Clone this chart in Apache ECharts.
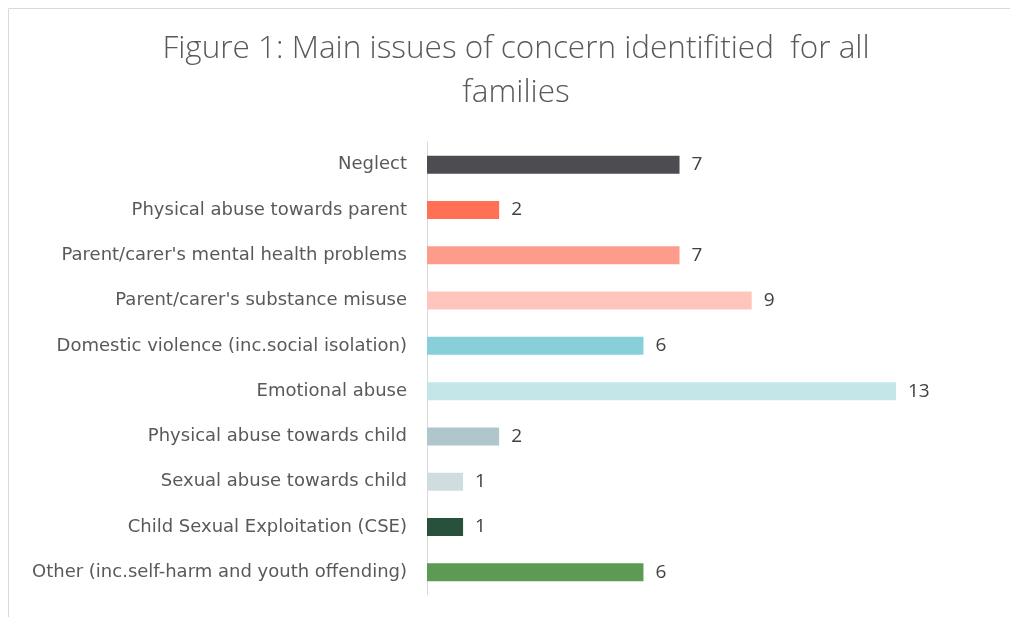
<!DOCTYPE html>
<html>
<head>
<meta charset="utf-8">
<script src="https://cdn.jsdelivr.net/npm/echarts@6/dist/echarts.min.js"></script>
<style>
html,body{margin:0;padding:0;background:#fff;}
#chart{width:1010px;height:617px;}
</style>
</head>
<body>
<div id="chart"></div>
<script>
const titleText = "Figure 1: Main issues of concern identifitied  for all\nfamilies";
const categories = [
  "Neglect",
  "Physical abuse towards parent",
  "Parent/carer's mental health problems",
  "Parent/carer's substance misuse",
  "Domestic violence (inc.social isolation)",
  "Emotional abuse",
  "Physical abuse towards child",
  "Sexual abuse towards child",
  "Child Sexual Exploitation (CSE)",
  "Other (inc.self-harm and youth offending)"
];
const values = [7, 2, 7, 9, 6, 13, 2, 1, 1, 6];
const barColors = ["#4d4c51", "#ff7055", "#fe9c8c", "#ffc5bd", "#88d0d9", "#c4e6e8", "#afc7cb", "#d0dde0", "#27513a", "#5d9a54"];

const chart = echarts.init(document.getElementById('chart'));
chart.setOption({
  animation: false,
  backgroundColor: '#fff',
  graphic: [{
    type: 'rect',
    shape: {x: 8.5, y: 8.5, width: 1020, height: 620},
    style: {fill: 'none', stroke: '#d9d9d9', lineWidth: 1},
    silent: true
  }],
  title: {
    text: titleText,
    left: 511,
    textAlign: 'center',
    top: 22,
    textStyle: {
      fontFamily: 'Open Sans',
      fontWeight: 300,
      fontSize: 31.5,
      color: '#595959',
      lineHeight: 44
    }
  },
  grid: {left: 427, right: 114, top: 142, bottom: 22, containLabel: false},
  xAxis: {
    type: 'value', min: 0, max: 13,
    show: false
  },
  yAxis: {
    type: 'category',
    data: categories,
    inverse: true,
    axisLine: {show: true, lineStyle: {color: '#d9d9d9', width: 1}},
    axisTick: {show: false},
    axisLabel: {
      margin: 20,
      fontFamily: 'DejaVu Sans',
      fontSize: 18,
      color: '#595959'
    }
  },
  series: [{
    type: 'bar',
    data: values.map((v, i) => ({value: v, itemStyle: {color: barColors[i]}})),
    barWidth: 18,
    label: {
      show: true,
      position: 'right',
      distance: 12,
      fontFamily: 'Open Sans',
      fontSize: 19,
      color: '#404040'
    }
  }]
});
</script>
</body>
</html>
